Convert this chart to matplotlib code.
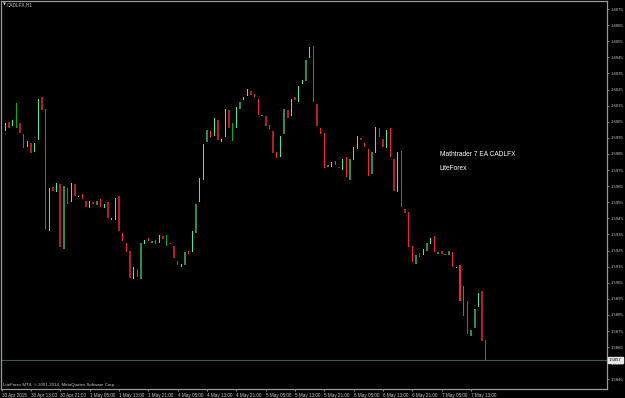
"""
CADLFX H1 candles, MT4 style dark chart.
"""
import matplotlib
matplotlib.use("Agg")
import matplotlib.pyplot as plt
import numpy as np

# hourly bars from 30 Apr 2015 05:00
OPENS = [
    1.60030, 1.59992, 1.60050, 1.60023, 1.60013, 1.60042, 1.59974, 1.59893, 1.59918, 1.59862,
    1.59936, 1.60203, 1.60129, 1.59373, 1.59644, 1.59613, 1.59663, 1.59259, 1.59638, 1.59551,
    1.59663, 1.59582, 1.59601, 1.59558, 1.59514, 1.59551, 1.59534, 1.59570, 1.59514, 1.59551,
    1.59441, 1.59441, 1.59589, 1.59359, 1.59297, 1.59247, 1.59073, 1.59137, 1.59073, 1.59290,
    1.59328, 1.59298, 1.59317, 1.59298, 1.59340, 1.59278, 1.59298, 1.59278, 1.59187, 1.59148,
    1.59160, 1.59247, 1.59241, 1.59359, 1.59551, 1.59690, 1.59922, 1.59992, 1.59961, 1.60061,
    1.59922, 1.59955, 1.60123, 1.59930, 1.60013, 1.60131, 1.60185, 1.60212, 1.60241, 1.60224,
    1.60191, 1.60085, 1.60085, 1.60030, 1.59992, 1.59862, 1.59831, 1.59974, 1.60123, 1.60085,
    1.60203, 1.60174, 1.60284, 1.60303, 1.60446, 1.60522, 1.60162, 1.60011, 1.59980, 1.59769,
    1.59771, 1.59808, 1.59771, 1.59750, 1.59831, 1.59690, 1.59814, 1.59882, 1.59951, 1.59918,
    1.59880, 1.59723, 1.59854, 1.60011, 1.59941, 1.59885, 1.60013, 1.59818, 1.59612, 1.59870,
    1.59510, 1.59489, 1.59278, 1.59168, 1.59236, 1.59222, 1.59249, 1.59290, 1.59340, 1.59230,
    1.59247, 1.59222, 1.59222, 1.59239, 1.59143, 1.59160, 1.58843, 1.58936, 1.58719, 1.58771,
    1.58901, 1.58999, 1.58694,
]
CLOSES = [
    1.60005, 1.60040, 1.60013, 1.60061, 1.60166, 1.59982, 1.59887, 1.59930, 1.59856, 1.59918,
    1.60191, 1.60123, 1.59384, 1.59638, 1.59620, 1.59669, 1.59272, 1.59651, 1.59539, 1.59669,
    1.59589, 1.59590, 1.59572, 1.59522, 1.59558, 1.59539, 1.59558, 1.59522, 1.59539, 1.59452,
    1.59452, 1.59576, 1.59373, 1.59309, 1.59241, 1.59079, 1.59148, 1.59087, 1.59297, 1.59317,
    1.59309, 1.59309, 1.59290, 1.59346, 1.59321, 1.59348, 1.59290, 1.59203, 1.59160, 1.59168,
    1.59241, 1.59228, 1.59371, 1.59539, 1.59700, 1.59912, 1.59998, 1.59953, 1.60073, 1.59936,
    1.59943, 1.60131, 1.60011, 1.60042, 1.60141, 1.60172, 1.60203, 1.60253, 1.60214, 1.60203,
    1.60092, 1.60092, 1.60023, 1.60003, 1.59856, 1.59825, 1.59961, 1.60131, 1.60073, 1.60193,
    1.60185, 1.60272, 1.60309, 1.60433, 1.60514, 1.60172, 1.60023, 1.59976, 1.59763, 1.59781,
    1.59800, 1.59781, 1.59764, 1.59818, 1.59705, 1.59818, 1.59893, 1.59961, 1.59936, 1.59893,
    1.59713, 1.59862, 1.60019, 1.59953, 1.59891, 1.59998, 1.59833, 1.59621, 1.59862, 1.59522,
    1.59481, 1.59270, 1.59181, 1.59224, 1.59212, 1.59258, 1.59297, 1.59328, 1.59241, 1.59239,
    1.59230, 1.59230, 1.59249, 1.59149, 1.59149, 1.58938, 1.59030, 1.58730, 1.58756, 1.58887,
    1.58988, 1.58688, 1.58570,
]
# candle tone as drawn by the template: B light bull, b dark bull, G thin bull, R light bear, r dark bear
TONES = ("RBrBGrRBrB" "BrRBrBrbRB" "rBRrBrbRBr" "BBrRRrBRbB" "RbRBrGRrRB"
         "bRBbBBbRBr" "BBrGBbBBrR" "RbrRrRBbrB" "rBBbBRrRRb" "BRrBRbBBrR"
         "RbBRrBRrBR" "rRRbRBbBRb" "rbbRBRGRbb" "BrR")

DATE_TICKS = [0, 8, 16, 24, 32, 40, 48, 56, 64, 72, 80, 88, 96, 104, 112, 120, 128]
DATE_LABELS = ["30 Apr 2015", "30 Apr 13:00", "30 Apr 21:00", "1 May 05:00", "1 May 13:00",
               "1 May 21:00", "4 May 05:00", "4 May 13:00", "4 May 21:00", "5 May 05:00",
               "5 May 13:00", "5 May 21:00", "6 May 05:00", "6 May 13:00", "6 May 21:00",
               "7 May 05:00", "7 May 13:00"]
PRICE_TICKS = [1.5845 + 0.001 * k for k in range(24)]
LAST_PRICE = 1.5857

COLORS = {"B": "#3cf0a0", "b": "#2e8b57", "G": "#00b400", "R": "#ff2424", "r": "#b02020"}
WIDTHS = {"B": 0.30, "b": 0.55, "G": 0.27, "R": 0.30, "r": 0.55}
FG = "#c8c8c8"
FONT = "Liberation Sans"


def main():
    fig = plt.figure(figsize=(6.25, 3.98), dpi=100, facecolor="black")
    ax = fig.add_axes([1 / 625, 1 - 389 / 398, 606 / 625, 388 / 398], facecolor="black")

    x = np.arange(len(OPENS))
    o = np.array(OPENS); c = np.array(CLOSES)
    lo = np.minimum(o, c); h = np.maximum(np.abs(c - o), 0.00007)
    ax.bar(x, h, bottom=lo, width=[WIDTHS[t] for t in TONES],
           color=[COLORS[t] for t in TONES], linewidth=0, align="center")

    ax.axhline(LAST_PRICE, color="#3c5a50", lw=0.8)
    ax.set_xlim(-0.19, 165.1)
    ax.set_ylim(1.58390, 1.60800)

    for s in ax.spines.values():
        s.set_color("#9a9a9a"); s.set_linewidth(0.9)

    ax.yaxis.tick_right()
    ax.set_yticks(PRICE_TICKS)
    ax.set_yticklabels([f"{p:.4f}" for p in PRICE_TICKS], fontsize=3.1, color=FG, family=FONT)
    ax.set_xticks(DATE_TICKS)
    ax.set_xticklabels(DATE_LABELS, fontsize=3.3, color=FG, family=FONT, ha="left")
    ax.tick_params(axis="both", length=1.6, width=0.6, color="#9a9a9a", pad=1)
    ax.tick_params(axis="y", pad=1.2)

    # last price box on the scale
    ax.text(1.0035, LAST_PRICE, f"{LAST_PRICE:.4f}", transform=ax.get_yaxis_transform(),
            fontsize=3.1, family=FONT, color="black", va="center", ha="left",
            bbox=dict(boxstyle="square,pad=0.2", fc="#e6e6e6", ec="#e6e6e6"), zorder=10,
            clip_on=False)

    fig.text(3 / 625, 1 - 5 / 398, "\u25bc", fontsize=2.8, color=FG, va="center")
    fig.text(7 / 625, 1 - 5 / 398, "CADLFX,H1", fontsize=3.4, color=FG, family=FONT, va="center")
    fig.text(440 / 625, 1 - 155 / 398, "Mathtrader 7 EA CADLFX", fontsize=4.8, color="white",
             family=FONT, va="center")
    fig.text(440 / 625, 1 - 169 / 398, "LiteForex", fontsize=4.8, color="white", family=FONT,
             va="center")
    fig.text(3 / 625, 1 - 385 / 398, "LiteForex MT4, \u00a9 2001-2014, MetaQuotes Software Corp.",
             fontsize=3.2, color=FG, family=FONT, va="center")

    fig.savefig("out.png", dpi=100, facecolor="black")


if __name__ == "__main__":
    main()
